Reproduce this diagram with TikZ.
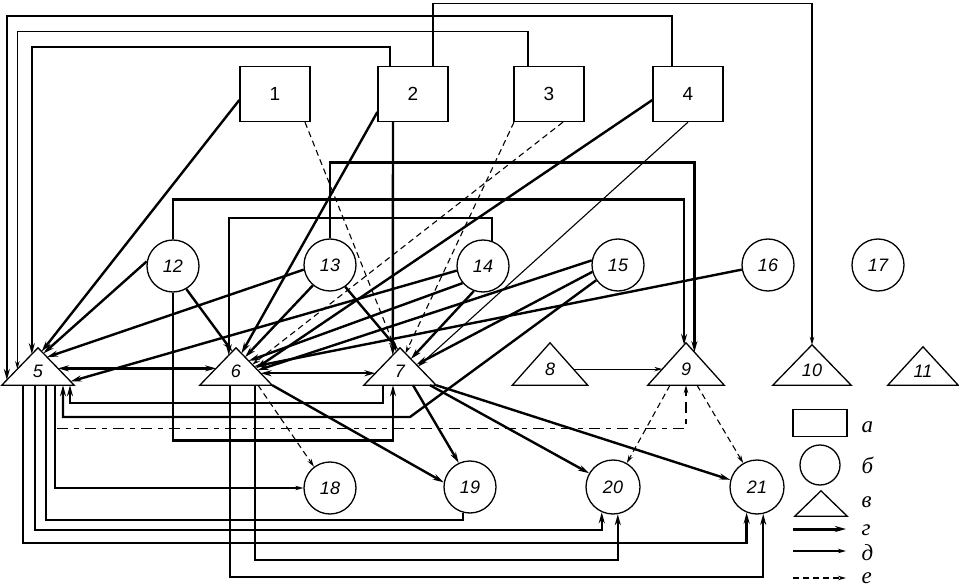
\documentclass[tikz,border=0pt]{standalone}
\usepackage{fontspec}
\setmainfont{Liberation Sans}
\newfontfamily\legfont{Liberation Serif}
\usetikzlibrary{arrows.meta,calc}
\tikzset{
  bx/.style={draw, line width=1.3pt, minimum width=70pt, minimum height=55pt, inner sep=0pt, font=\fontsize{19}{19}\selectfont},
  circ/.style={draw, circle, line width=1.3pt, minimum size=52pt, inner sep=0pt, font=\fontsize{18}{18}\selectfont\itshape},
  tri/.style={minimum width=72pt, minimum height=37pt, inner sep=0pt, text height=22pt, text depth=0pt, font=\fontsize{18}{18}\selectfont\itshape},
  trishape/.style={draw, line width=1.3pt, line join=miter},
  gg/.style={line width=2.4pt, -{Stealth[length=11pt,width=6pt]}},
  gline/.style={line width=2.4pt},
  gg2/.style={line width=2.4pt, {Stealth[length=11pt,width=6pt]}-{Stealth[length=11pt,width=6pt]}},
  dd/.style={line width=1.1pt, -{Stealth[length=8pt,width=4.5pt]}},
  ee/.style={line width=1.1pt, dash pattern=on 6pt off 4pt, -{Stealth[length=8pt,width=4.5pt]}},
  ee2/.style={line width=1.4pt, dash pattern=on 11pt off 6pt on 5pt off 6pt, -{Stealth[length=8pt,width=4.5pt]}},
  leg/.style={font=\fontsize{23}{23}\selectfont\legfont\itshape, anchor=west}
}
\begin{document}
\begin{tikzpicture}[x=1pt,y=-1pt]
\useasboundingbox (0,0) rectangle (959,588);
% boxes
\node[bx] (b1) at (275,94) {1};
\node[bx] (b2) at (413,94) {2};
\node[bx] (b3) at (549,94) {3};
\node[bx] (b4) at (688,94) {4};
% circles
\node[circ] (c12) at (173,266) {12};
\node[circ] (c13) at (330,265) {13};
\node[circ] (c14) at (483,266) {14};
\node[circ] (c15) at (618,265) {15};
\node[circ] (c16) at (768,265) {16};
\node[circ] (c17) at (878,265) {17};
\node[circ] (c18) at (330,488) {18};
\node[circ] (c19) at (470,487) {19};
\node[circ, minimum size=54pt] (c20) at (613,487) {20};
\node[circ, minimum size=54pt] (c21) at (757,487) {21};
% triangles
\node[tri] (t5) at (38,366.5) {5};
\node[tri] (t6) at (236,366.5) {6};
\node[tri] (t7) at (400,366.5) {7};
\node[tri, minimum width=75pt, minimum height=42pt] (t8) at (550,364) {8};
\node[tri, minimum width=76pt, minimum height=42pt] (t9) at (686,364) {9};
\node[tri, minimum width=78pt, minimum height=40pt] (t10) at (812,365) {10};
\node[tri, minimum width=70pt, minimum height=38pt] (t11) at (923,366) {11};
% legend shapes
\node[bx, minimum width=54pt, minimum height=27pt] (la) at (820,423) {};
\node[circ, minimum size=40pt] (lb) at (820,465) {};
\node[tri, minimum width=52pt, minimum height=25pt] (lc) at (821,503.5) {};
\foreach \n in {t5,t6,t7,t8,t9,t10,t11,lc}
  \draw[trishape] (\n.south west) -- (\n.north) -- (\n.south east) -- cycle;

% top frame connectors
\draw[dd] ([xshift=20pt]b2.north) -- ++(0,-62) -| (t10.north);
\draw[gg] ([xshift=-16pt]b4.north) -- ++(0,-50) -| ($(t5.north)!0.86!(t5.south west)$);
\draw[dd] ([xshift=-21pt]b3.north) -- ++(0,-34) -| ($(t5.north)!0.57!(t5.south west)$);
\draw[gg] ([xshift=-23pt]b2.north) -- ++(0,-19) -| ($(t5.north)!0.17!(t5.south west)$);

% diagonals from boxes
\draw[gg] ([yshift=-6pt]b1.west) -- ($(t5.north)!0.1!(t5.south east)$);
\draw[ee] ([xshift=30pt]b1.south) -- ($(t7.north)!0.1!(t7.south west)$);
\draw[gg] ([yshift=-18pt]b2.west) -- ($(t6.north)!0.15!(t6.south east)$);
\draw[gg] ([xshift=-20pt]b2.south) -- ($(t7.north)!0.2!(t7.south west)$);
\draw[ee] ([xshift=-35pt]b3.south) -- ($(t7.north)!0.15!(t7.south east)$);
\draw[ee] ([xshift=14pt]b3.south) -- ($(t6.north)!0.45!(t6.south east)$);
\draw[gg] ([yshift=-6pt]b4.west) -- ($(t6.north)!0.55!(t6.south east)$);
\draw[dd] (b4.south) -- ($(t7.north)!0.5!(t7.south east)$);

% loops from circles above
\draw[gg] (c12.north) -- ++(0,-40) -| ($(t9.north)!0.05!(t9.south west)$);
\draw[gg] (c13.north) -- ++(0,-76) -| ($(t9.north)!0.22!(t9.south east)$);
\draw[gg] (c14.70) -- ++(0,-23) -| ($(t6.north)!0.2!(t6.south west)$);
\draw[gg] (c12.south) -- ++(0,148) -| ([xshift=-7pt]t7.south);

% circles to triangles
\draw[gg] (c12.170) -- ($(t5.north)!0.15!(t5.south east)$);
\draw[gg] (c12.300) -- ($(t6.north)!0.1!(t6.south west)$);
\draw[gg] (c13.190) -- ($(t5.north)!0.25!(t5.south east)$);
\draw[gg] (c13.230) -- ($(t6.north)!0.25!(t6.south east)$);
\draw[gg] (c13.305) -- ($(t7.north)!0.05!(t7.south west)$);
\draw[gg] (c14.190) -- ($(t5.north)!0.9!(t5.south east)$);
\draw[gg] (c14.220) -- ($(t6.north)!0.35!(t6.south east)$);
\draw[gg] (c14.250) -- ($(t7.north)!0.3!(t7.south east)$);
\draw[gg] (c15.170) -- ($(t6.north)!0.6!(t6.south east)$);
\draw[gg] (c15.195) -- ($(t7.north)!0.45!(t7.south east)$);
\draw[gg] (c16.190) -- ($(t6.north)!0.5!(t6.south east)$);
\draw[gg] (c15.215) -- (410,417) -| ([xshift=25pt]t5.south);

% horizontal links
\draw[gg2] ($(t5.north)!0.55!(t5.south east)$) -- ($(t6.north)!0.55!(t6.south west)$);
\draw[gg2] ($(t6.north)!0.68!(t6.south east)$) -- ($(t7.north)!0.68!(t7.south west)$);
\draw[dd] ($(t8.north)!0.62!(t8.south east)$) -- ($(t9.north)!0.62!(t9.south west)$);

% lower loops
\draw[gg] ([xshift=-17pt]t7.south) -- ++(0,18) -| ([xshift=32pt]t5.south);
\draw[dd] ([xshift=17pt]t5.south) |- (c18.west);
\draw[ee2] ([xshift=19pt,yshift=-43pt]t5.south) -| (t9.south);
\draw[gline] ([xshift=8pt]t5.south) |- ([yshift=-7pt]c19.255) -- (c19.255);
\draw[gg] ([xshift=-3pt]t5.south) -- ++(0,145) -| (c20.246);
\draw[gg] ([xshift=-15pt]t5.south) -- ++(0,158) -| (c21.248);
\draw[gg] ([xshift=19pt]t6.south) -- ++(0,175) -| (c20.280);
\draw[gg] ([xshift=-6pt]t6.south) -- ++(0,192) -| (c21.283);

% diagonals down
\draw[ee] ([xshift=22pt]t6.south) -- (c18.127);
\draw[gg] (t6.south east) -- (c19.170);
\draw[gg] ([xshift=13pt]t7.south) -- (c19.115);
\draw[gg] ([xshift=30pt]t7.south) -- (c20.150);
\draw[gg] (t7.south east) -- (c21.165);
\draw[ee] ([xshift=-16pt]t9.south) -- (c20.60);
\draw[ee] ([xshift=11pt]t9.south) -- (c21.120);

% legend
\coordinate (g1) at (793,529); \coordinate (g2) at (846,529);
\coordinate (d1) at (793,551); \coordinate (d2) at (846,551);
\coordinate (e1) at (793,578); \coordinate (e2) at (846,578);
\draw[gg, line width=3pt] (g1) -- (g2);
\draw[dd] (d1) -- (d2);
\draw[ee] (e1) -- (e2);
\node[leg] (ta) at (858,427) {а};
\node[leg] (tb) at (858,465) {б};
\node[leg] (tc) at (858,502) {в};
\node[leg] (td) at (858,530) {г};
\node[leg] (te) at (858,553) {д};
\node[leg] (tf) at (858,578) {е};
\end{tikzpicture}
\end{document}
